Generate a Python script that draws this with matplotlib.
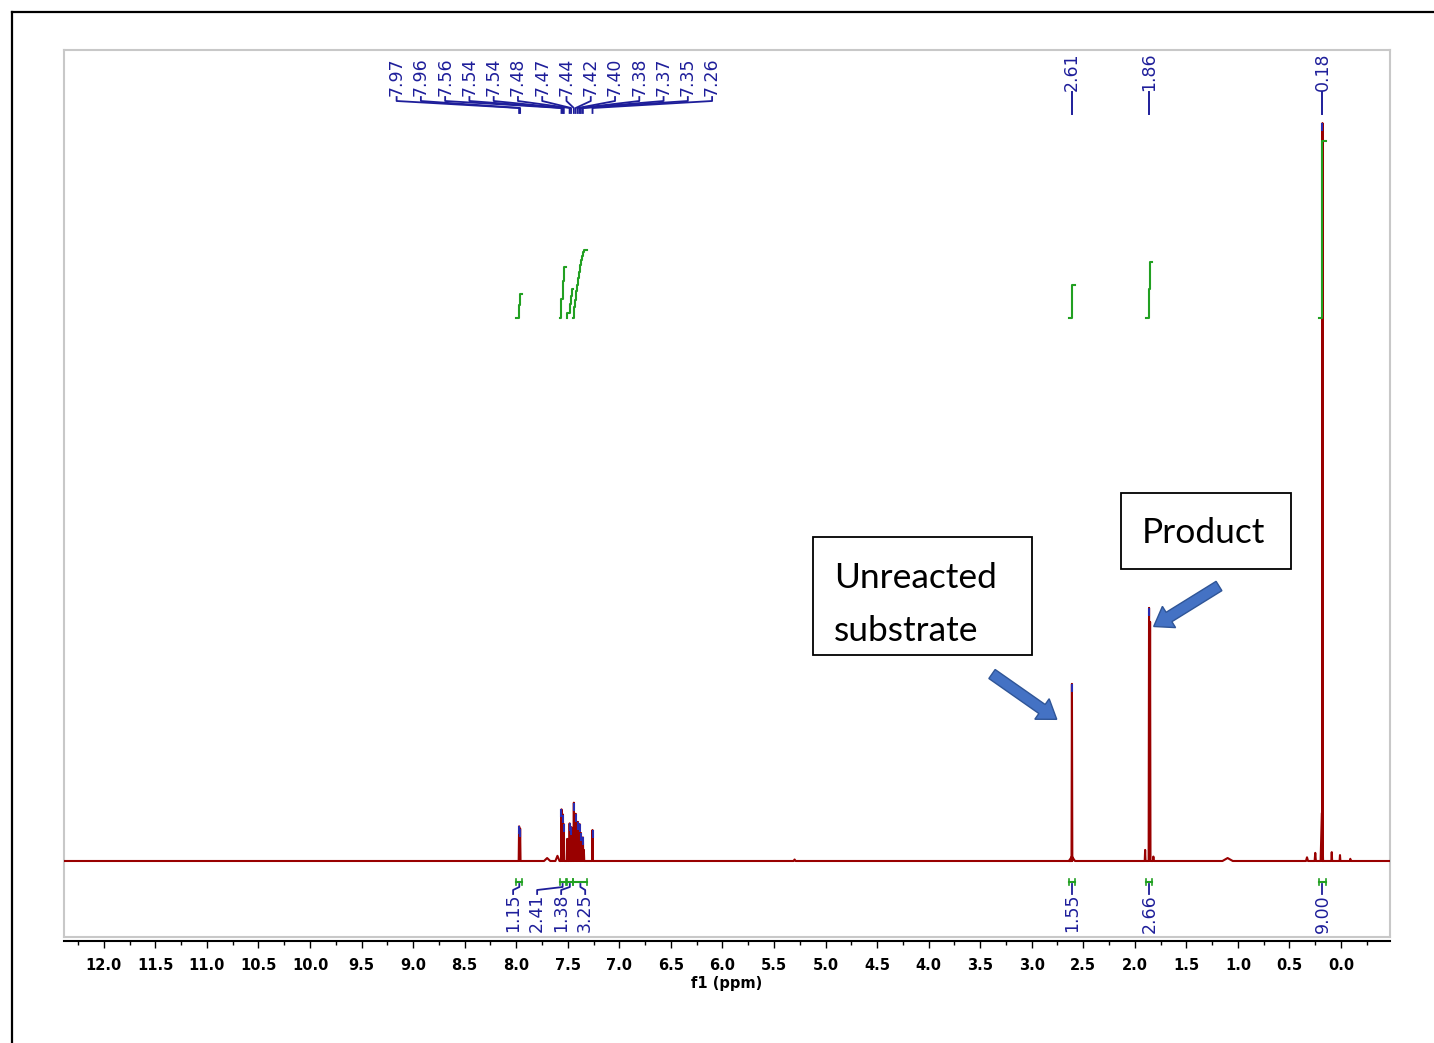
import numpy as np
import matplotlib.pyplot as plt
from matplotlib.patches import Rectangle, FancyArrow
from matplotlib.ticker import MultipleLocator, FormatStrFormatter

# picked peaks: position (ppm), label, height (% of the 0.18 ppm line)
picked_ppm = [7.972, 7.962, 7.561, 7.547, 7.538, 7.482, 7.468, 7.441,
              7.423, 7.402, 7.384, 7.372, 7.353, 7.260, 2.610, 1.862, 0.180]
picked_lbl = ['7.97', '7.96', '7.56', '7.54', '7.54', '7.48', '7.47', '7.44',
              '7.42', '7.40', '7.38', '7.37', '7.35', '7.26', '2.61', '1.86', '0.18']
picked_int = [4.7, 4.4, 7.0, 6.3, 5.0, 5.1, 4.6, 7.9,
              6.4, 5.3, 5.0, 3.8, 3.2, 4.2, 24.0, 34.3, 100.0]

# other lines and small humps: position, height, half width (ppm)
extra_ppm = [7.70, 7.60, 7.505, 7.455, 7.432, 7.412, 7.393, 7.362, 7.344,
             5.30, 2.61, 1.90, 1.852, 1.82, 1.10, 0.33, 0.25, 0.186, 0.09, 0.01, -0.09]
extra_int = [0.4, 0.7, 3.0, 4.5, 5.6, 5.0, 4.4, 3.0, 1.5,
             0.2, 0.6, 1.5, 32.4, 0.6, 0.4, 0.5, 1.1, 6.5, 1.2, 0.8, 0.3]
extra_hw = [0.03, 0.02, 0.004, 0.004, 0.004, 0.004, 0.004, 0.004, 0.004,
            0.01, 0.03, 0.004, 0.004, 0.004, 0.05, 0.01, 0.006, 0.012, 0.004, 0.004, 0.004]

# integrals: region (ppm) and value
int_from = [8.00, 7.58, 7.51, 7.445, 2.64, 1.89, 0.21]
int_to = [7.94, 7.52, 7.45, 7.31, 2.58, 1.83, 0.15]
int_val = [1.15, 2.41, 1.38, 3.25, 1.55, 2.66, 9.00]
int_lbl = ['1.15', '2.41', '1.38', '3.25', '1.55', '2.66', '9.00']

red = '#990000'
blue = '#1e1e9a'
green = '#22a022'

W, H = 1434, 1043
fig = plt.figure(figsize=(W / 100, H / 100), dpi=100)

# plot box in pixels: x 64..1390, y 50..937
ax = fig.add_axes([64 / W, 1 - 937 / H, 1326 / W, 887 / H])
ax.set_xlim(12.386, -0.475)
ax.set_ylim(-10.30, 109.9)

def yf(px):
    return (937 - px) / 887

xt = ax.get_xaxis_transform()

# spectrum
lines = [(p, h, 0.004) for p, h in zip(picked_ppm, picked_int)]
lines += list(zip(extra_ppm, extra_int, extra_hw))
lines.sort(key=lambda t: -t[0])
sx, sy = [12.386], [0.0]
for p, h, w in lines:
    sx += [p + w, p, p - w]
    sy += [0.0, h, 0.0]
sx.append(-0.475)
sy.append(0.0)
ax.plot(sx, sy, color=red, lw=1.5, zorder=3)

# blue tips on picked peaks
tips = np.array(picked_int)
ax.vlines(picked_ppm, tips - 1.1, tips, color='#2a2ab0', lw=1.5, zorder=4)

# integral curves
ibase, iscale = 73.6, 2.846
for a, b, v in zip(int_from, int_to, int_val):
    sel = sorted([(p, h) for p, h, w in lines if b <= p <= a], key=lambda t: -t[0])
    tot = sum(h for p, h in sel)
    top = min(ibase + v * iscale, 97.6)
    xs, ys = [a], [ibase]
    c = 0.0
    for p, h in sel:
        y0 = ibase + (top - ibase) * c / tot
        c += h
        y1 = ibase + (top - ibase) * c / tot
        xs += [p, p]
        ys += [y0, y1]
    xs.append(b)
    ys.append(top)
    ax.plot(xs, ys, color=green, lw=1.5, zorder=5)

# peak labels at the top
arom = [i for i, p in enumerate(picked_ppm) if p > 5]
lab_x = np.linspace(9.16, 6.10, len(arom))
for lx, i in zip(lab_x, arom):
    ax.text(lx, yf(96), picked_lbl[i], rotation=90, ha='center', va='bottom',
            transform=xt, color=blue, fontsize=12.5)
    ax.plot([lx, lx, picked_ppm[i], picked_ppm[i]],
            [yf(97), yf(101), yf(108), yf(113)],
            transform=xt, color=blue, lw=1.3, clip_on=False)
for i, p in enumerate(picked_ppm):
    if p < 5:
        ax.text(p, yf(91), picked_lbl[i], rotation=90, ha='center', va='bottom',
                transform=xt, color=blue, fontsize=12.5)
        ax.plot([p, p], [yf(92), yf(114)], transform=xt, color=blue, lw=1.4)

# integral labels under the baseline
for k, (a, b, t) in enumerate(zip(int_from, int_to, int_lbl)):
    mid = (a + b) / 2
    lx = 8.03 - 0.233 * k if a > 5 else mid
    ax.plot([a, b], [yf(882), yf(882)], transform=xt, color=green, lw=1.5)
    ax.plot([a, a], [yf(879), yf(885)], transform=xt, color=green, lw=1.2)
    ax.plot([b, b], [yf(879), yf(885)], transform=xt, color=green, lw=1.2)
    ax.plot([lx, lx, mid, mid], [yf(894), yf(890), yf(887), yf(884)],
            transform=xt, color=blue, lw=1.3)
    ax.text(lx, yf(894), t, rotation=90, ha='center', va='top',
            transform=xt, color=blue, fontsize=12.5)

# frame and axis
for s in ['top', 'left', 'right']:
    ax.spines[s].set_color('#c8c8c8')
    ax.spines[s].set_linewidth(1.5)
ax.plot([0, 1], [0, 0], transform=ax.transAxes, color='#c8c8c8', lw=1.5, clip_on=False)
ax.spines['bottom'].set_position(('outward', 3))
ax.spines['bottom'].set_linewidth(1.5)
ax.yaxis.set_visible(False)
ax.xaxis.set_major_locator(MultipleLocator(0.5))
ax.xaxis.set_minor_locator(MultipleLocator(0.25))
ax.xaxis.set_major_formatter(FormatStrFormatter('%.1f'))
ax.tick_params(axis='x', which='major', length=5, width=1, pad=7, direction='out')
ax.tick_params(axis='x', which='minor', length=3, width=1, direction='out')
for lab in ax.get_xticklabels():
    lab.set_fontweight('bold')
    lab.set_fontsize(10.5)
ax.set_xlabel('f1 (ppm)', fontsize=10.5, fontweight='bold', labelpad=2)

# overlay in pixel coordinates for the annotations
ov = fig.add_axes([0, 0, 1, 1], facecolor='none')
ov.set_xlim(0, W)
ov.set_ylim(H, 0)
ov.axis('off')
ov.plot([12, 12], [12, H], color='black', lw=1.6)
ov.plot([12, W], [12, 12], color='black', lw=1.6)

ov.add_patch(Rectangle((813, 537), 219, 118, fill=False, ec='black', lw=1.3))
ov.text(834, 588, 'Unreacted', fontsize=25.5, family='Lato', va='baseline')
ov.text(834, 641, 'substrate', fontsize=25.5, family='Lato', va='baseline')
ov.add_patch(Rectangle((1121, 493), 170, 76, fill=False, ec='black', lw=1.3))
ov.text(1142, 543, 'Product', fontsize=25.5, family='Lato', va='baseline')

ov.add_patch(FancyArrow(992, 674, 50, 35, width=11, head_width=25, head_length=18,
                        length_includes_head=False, fc='#4472C4', ec='#2F5597', lw=1))
ov.add_patch(FancyArrow(1219, 586, -50, 31, width=11, head_width=25, head_length=18,
                        length_includes_head=False, fc='#4472C4', ec='#2F5597', lw=1))

fig.savefig('out.png', dpi=100)
